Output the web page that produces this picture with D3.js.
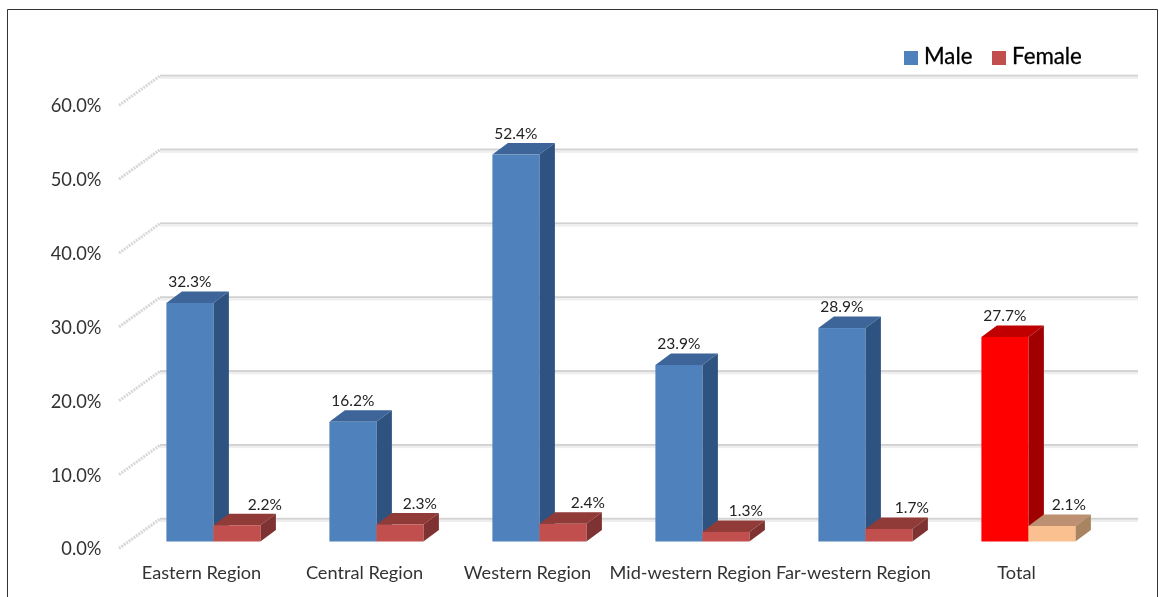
<!DOCTYPE html>
<html><head><meta charset="utf-8">
<script src="https://cdn.jsdelivr.net/npm/d3@7"></script>
<style>
html,body{margin:0;padding:0;background:#fff;overflow:hidden}
svg{display:block}
text{font-family:Lato,"Open Sans",sans-serif}
</style></head><body>
<script>
const categories = ["Eastern Region","Central Region","Western Region","Mid-western Region","Far-western Region","Total"];
const seriesNames = ["Male","Female"];
const maleValues = [32.3,16.2,52.4,23.9,28.9,27.7];
const femaleValues = [2.2,2.3,2.4,1.3,1.7,2.1];
const yTicks = [0,10,20,30,40,50,60];

const W=1159,H=597;
const svg=d3.select("body").append("svg").attr("width",W).attr("height",H);
svg.append("defs").append("filter").attr("id","soft").append("feGaussianBlur").attr("stdDeviation",0.45);
const root=svg.append("g");
svg.append("path").attr("d",`M7.5,${H}V9.5H1157.5V${H}`).attr("fill","none").attr("stroke","#333").attr("stroke-width",1);

const y=d3.scaleLinear().domain([0,60]).range([541.5,98.4]);
const x0=d3.scaleBand().domain(categories).range([132.4,1110.4]);
const barW=47;
const x1=d3.scaleBand().domain(seriesNames).range([34,34+2*barW]);
const depthX=15.5,depthY=11.5;
const wallDX=41,wallDY=29.5;
const gridLeft=160,gridRight=1138;

const g=root.append("g").attr("filter","url(#soft)");
yTicks.forEach(t=>{
  const yy=y(t)-22.5;
  g.append("rect").attr("x",gridLeft).attr("y",yy-1.2).attr("width",gridRight-gridLeft).attr("height",2).attr("fill","#d2d2d2");
  g.append("rect").attr("x",gridLeft).attr("y",yy+0.8).attr("width",gridRight-gridLeft).attr("height",2.2).attr("fill","#eeeeee");
  g.append("line").attr("x1",gridLeft-wallDX).attr("y1",yy+wallDY).attr("x2",gridLeft).attr("y2",yy)
    .attr("stroke","#d8d8d8").attr("stroke-width",3).attr("stroke-dasharray","2 1");
});

const palette={
  Male:{fill:"#4f81bd",top:"#3c659a",side:"#2f5380"},
  Female:{fill:"#c0504d",top:"#913a38",side:"#7e3230"},
  MaleTotal:{fill:"#ff0000",top:"#c00000",side:"#a00000"},
  FemaleTotal:{fill:"#fac090",top:"#bc9070",side:"#a88560"}
};
const rows=categories.map((c,i)=>[
  {c,s:"Male",v:maleValues[i]},
  {c,s:"Female",v:femaleValues[i]}
]);
rows.flat().forEach(d=>{
  const p=palette[d.s+(d.c==="Total"?"Total":"")];
  const left=x0(d.c)+x1(d.s);
  const t=y(d.v),b=y(0),r=left+barW;
  d.left=left;d.t=t;
  g.append("path").attr("d",`M${left},${t}L${left+depthX},${t-depthY}H${r+depthX}L${r},${t}Z`).attr("fill",p.top);
  g.append("path").attr("d",`M${r},${t}L${r+depthX},${t-depthY}V${b-depthY}L${r},${b}Z`).attr("fill",p.side);
  g.append("rect").attr("x",left).attr("y",t).attr("width",barW).attr("height",b-t).attr("fill",p.fill);
});

const femaleNudgeX=[28,20,25,20,23,17], femaleNudgeY=[-1,-1,-1,-1,-1,-1];
const fmt=v=>v.toFixed(1)+"%";
const labels=root.append("g").attr("filter","url(#soft)").attr("font-size",15.5).attr("fill","#222").attr("text-anchor","middle");
rows.forEach((pair,i)=>{
  const [m,f]=pair;
  labels.append("text").attr("x",m.left+barW/2).attr("y",m.t-depthY-4.5).text(fmt(m.v));
  labels.append("text").attr("x",f.left+barW/2+femaleNudgeX[i]).attr("y",f.t-depthY-3+femaleNudgeY[i]).text(fmt(f.v));
});

const yAxis=d3.axisLeft(d3.scaleLinear().domain([0,60]).range([549,106]))
  .tickValues(yTicks).tickSize(0).tickPadding(0).tickFormat(d=>d.toFixed(1)+"%");
const ya=root.append("g").attr("transform","translate(101.5,0)").attr("filter","url(#soft)").call(yAxis);
ya.select(".domain").remove();
ya.selectAll("text").attr("font-size",18.3).attr("fill","#333").attr("font-family","Lato,'Open Sans',sans-serif");

const xAxis=d3.axisBottom(x0).tickSize(0).tickPadding(0);
const xa=root.append("g").attr("transform","translate(-12.4,566)").attr("filter","url(#soft)").call(xAxis);
xa.select(".domain").remove();
xa.selectAll("text").attr("font-size",18.2).attr("fill","#333").attr("font-family","Lato,'Open Sans',sans-serif");

const leg=root.append("g").attr("filter","url(#soft)");
const legendItems=[{n:seriesNames[0],x:904,c:palette.Male.fill},{n:seriesNames[1],x:992,c:palette.Female.fill}];
legendItems.forEach(d=>{
  leg.append("rect").attr("x",d.x).attr("y",51).attr("width",14).attr("height",14).attr("fill",d.c);
  leg.append("text").attr("x",d.x+20).attr("y",64).attr("font-size",22.3).attr("fill","#000").attr("stroke","#000").attr("stroke-width",0.3).text(d.n);
});
</script>
</body></html>
